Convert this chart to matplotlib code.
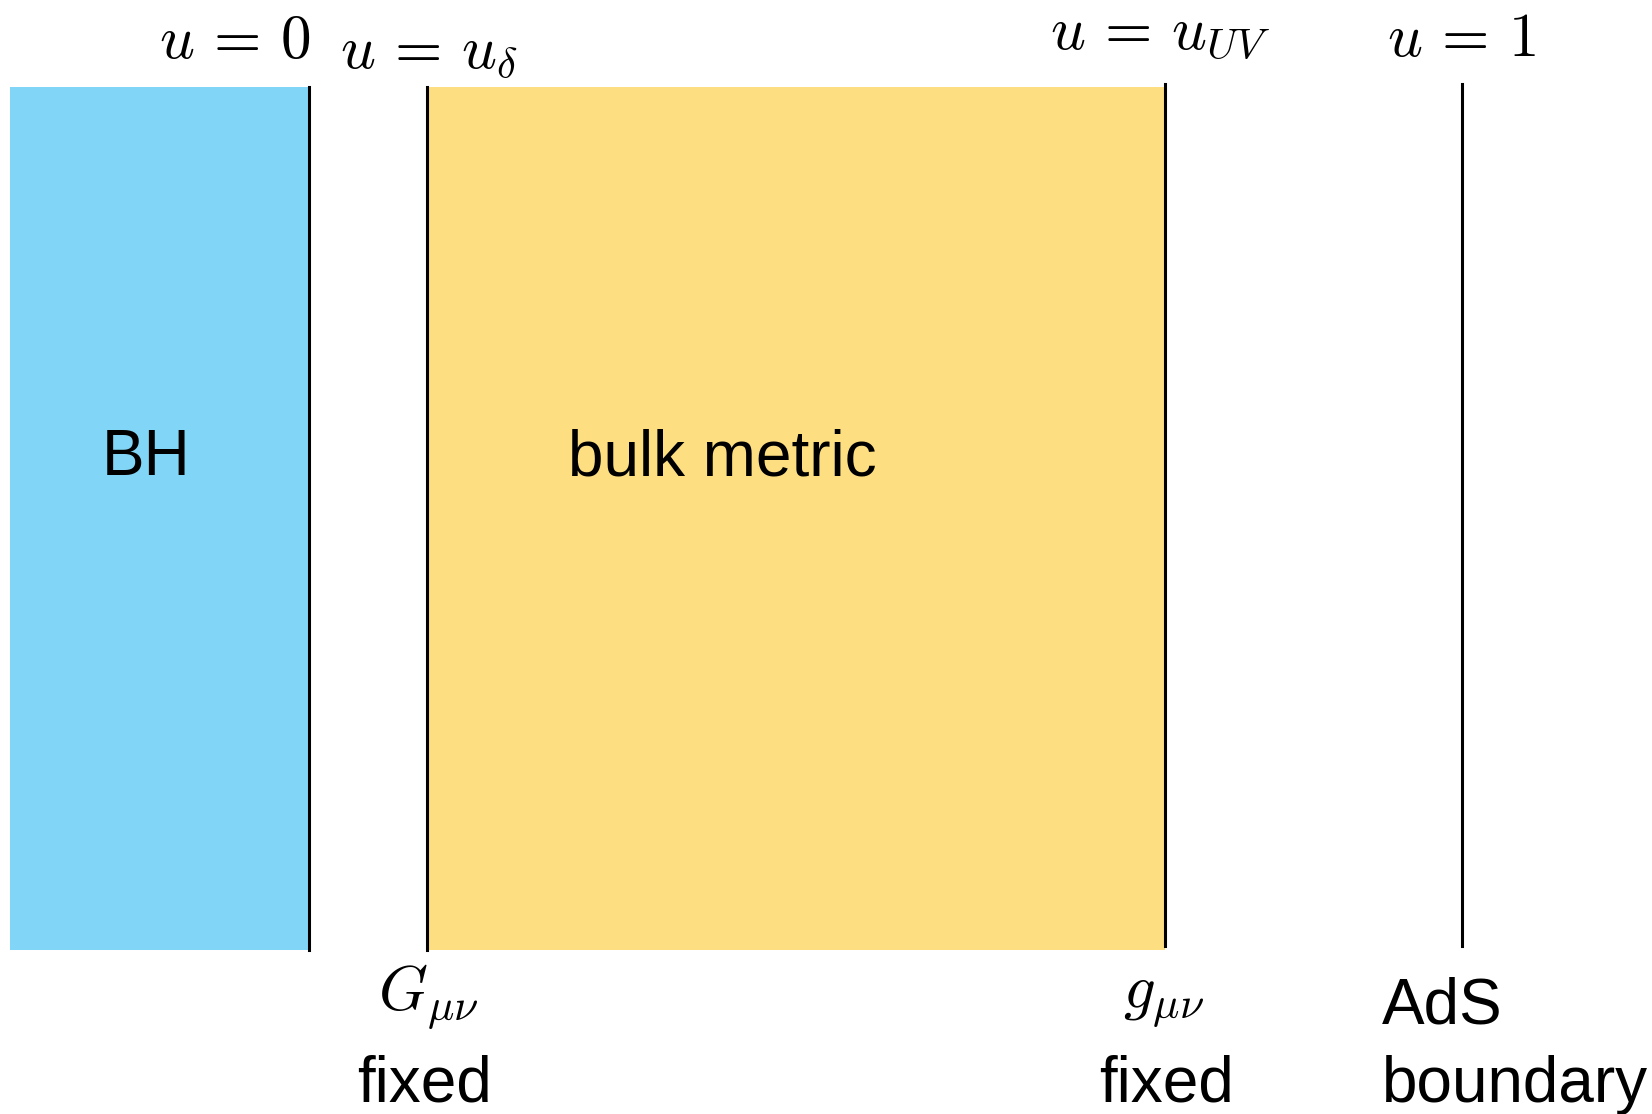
"""Schematic of the bulk region between u_delta and u_UV."""
import matplotlib
matplotlib.use("Agg")
import matplotlib.pyplot as plt
from matplotlib.patches import Rectangle

W, H = 1652, 1114

# regions: (left, right, colour, label, label_x)
region_names = ["BH", "bulk metric"]
region_left = [10, 427]
region_right = [309, 1165]
region_colors = ["#81D6F8", "#FDDE80"]
region_label_x = [146, 722]
region_top, region_bottom = 87, 950

# vertical slices
line_x = [309, 427, 1165, 1462]
line_top = [87, 87, 84, 84]
line_bottom = [950, 950, 946, 946]
top_labels = [r"$u\,=\,0$", r"$u\,=\,u_\delta$", r"$u\,=\,u_{UV}$", r"$u\,=\,1$"]
top_label_x = [235, 429, 1160, 1462]
top_label_base = [58, 68, 49, 56]

# bottom annotations
bottom_math = [r"$G_{\mu\nu}$", r"$g_{\mu\nu}$"]
bottom_math_x = [428, 1164]
bottom_math_base = [1009, 1007]
fixed_x = [424, 1166]


def main() -> None:
    plt.rcParams["mathtext.fontset"] = "cm"
    plt.rcParams["font.family"] = ["Liberation Sans", "DejaVu Sans"]
    fig = plt.figure(figsize=(W / 100, H / 100), dpi=100)
    ax = fig.add_axes([0, 0, 1, 1])
    ax.set_xlim(0, W)
    ax.set_ylim(H, 0)
    ax.axis("off")

    for l, r, c, name, lx in zip(region_left, region_right, region_colors,
                                 region_names, region_label_x):
        ax.add_patch(Rectangle((l, region_top), r - l, region_bottom - region_top,
                               facecolor=c, edgecolor="none", zorder=1))
        ax.text(lx, 458, name, fontsize=46, ha="center", va="center", zorder=3)

    for x, t, b in zip(line_x, line_top, line_bottom):
        ax.plot([x, x], [t, b], color="black", linewidth=2.2, zorder=2)

    for s, x, y in zip(top_labels, top_label_x, top_label_base):
        ax.text(x, y, s, fontsize=44, ha="center", va="baseline")

    for s, x, y in zip(bottom_math, bottom_math_x, bottom_math_base):
        ax.text(x, y, s, fontsize=45, ha="center", va="baseline")
    for x in fixed_x:
        ax.text(x, 1101, "fixed", fontsize=46, ha="center", va="baseline")

    ax.text(1382, 1006, "AdS", fontsize=46, ha="left", va="center")
    ax.text(1382, 1085, "boundary", fontsize=46, ha="left", va="center")

    fig.savefig("out.png", dpi=100)
    plt.close(fig)


if __name__ == "__main__":
    main()
